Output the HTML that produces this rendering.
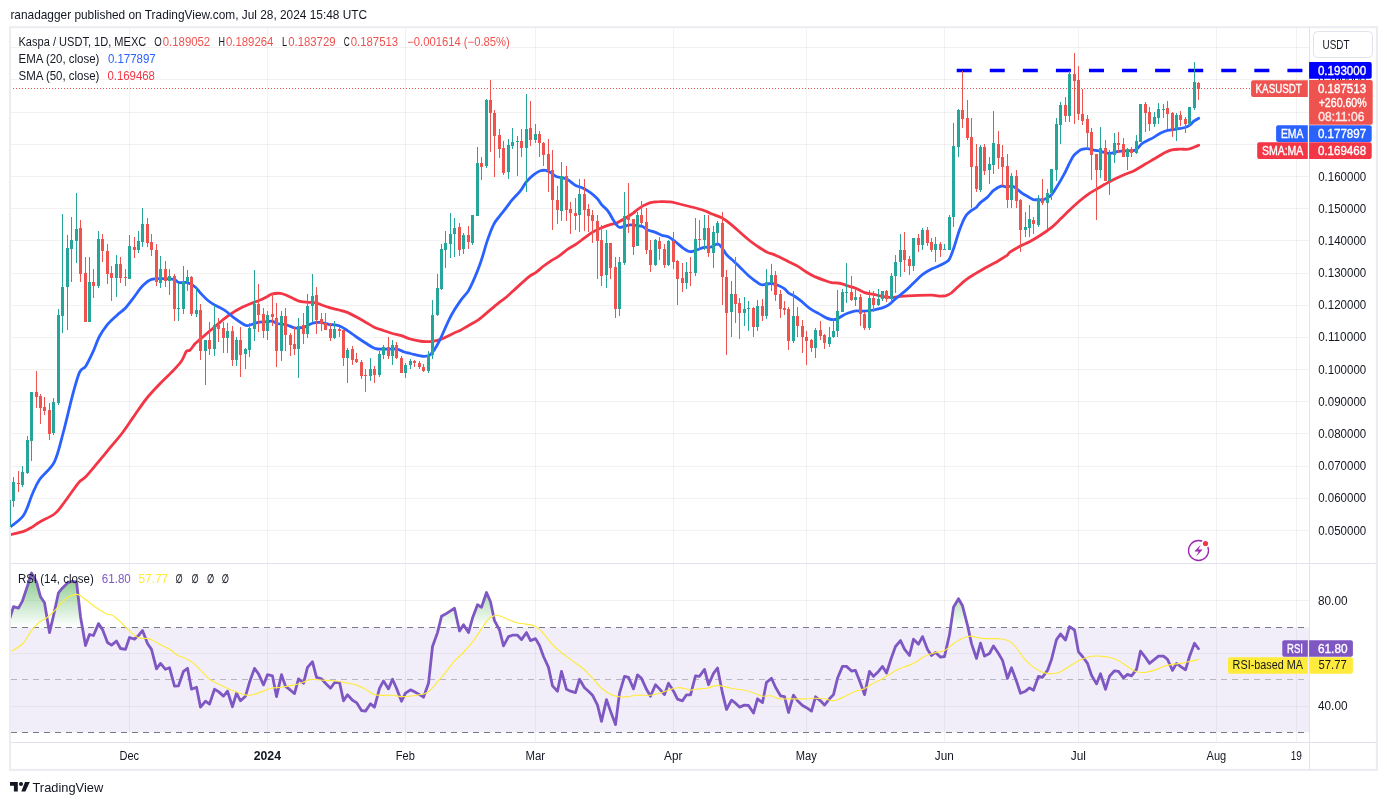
<!DOCTYPE html>
<html lang="en"><head><meta charset="utf-8"><title>Kaspa / USDT chart</title>
<style>html,body{margin:0;padding:0;background:#fff;}body{width:1387px;height:805px;overflow:hidden;}svg{display:block;}text{font-family:"Liberation Sans", "DejaVu Sans", sans-serif;}</style></head><body>
<svg width="1387" height="805" viewBox="0 0 1387 805">
<defs>
<clipPath id="cm"><rect x="10.5" y="28" width="1299" height="535"/></clipPath>
<clipPath id="cr"><rect x="10.5" y="564" width="1299" height="178"/></clipPath>
<clipPath id="ob"><rect x="10.5" y="564" width="1299" height="63.3"/></clipPath>
<linearGradient id="gg" gradientUnits="userSpaceOnUse" x1="0" y1="569.5" x2="0" y2="627.3"><stop offset="0" stop-color="#4caf50" stop-opacity="0.75"/><stop offset="1" stop-color="#4caf50" stop-opacity="0"/></linearGradient>
</defs>
<rect width="1387" height="805" fill="#fff"/>
<g stroke="#1e2a30" stroke-opacity="0.06" stroke-width="1" shape-rendering="crispEdges">
<line x1="10.5" x2="1309.5" y1="530.5" y2="530.5"/>
<line x1="10.5" x2="1309.5" y1="498.5" y2="498.5"/>
<line x1="10.5" x2="1309.5" y1="466.5" y2="466.5"/>
<line x1="10.5" x2="1309.5" y1="433.5" y2="433.5"/>
<line x1="10.5" x2="1309.5" y1="401.5" y2="401.5"/>
<line x1="10.5" x2="1309.5" y1="369.5" y2="369.5"/>
<line x1="10.5" x2="1309.5" y1="337.5" y2="337.5"/>
<line x1="10.5" x2="1309.5" y1="305.5" y2="305.5"/>
<line x1="10.5" x2="1309.5" y1="273.5" y2="273.5"/>
<line x1="10.5" x2="1309.5" y1="240.5" y2="240.5"/>
<line x1="10.5" x2="1309.5" y1="208.5" y2="208.5"/>
<line x1="10.5" x2="1309.5" y1="176.5" y2="176.5"/>
<line x1="10.5" x2="1309.5" y1="144.5" y2="144.5"/>
<line x1="10.5" x2="1309.5" y1="112.5" y2="112.5"/>
<line x1="10.5" x2="1309.5" y1="79.5" y2="79.5"/>
<line x1="10.5" x2="1309.5" y1="47.5" y2="47.5"/>
<line x1="10.5" x2="1309.5" y1="706.5" y2="706.5"/>
<line x1="10.5" x2="1309.5" y1="653.5" y2="653.5"/>
<line x1="10.5" x2="1309.5" y1="600.5" y2="600.5"/>
<line x1="129.5" x2="129.5" y1="28" y2="742.5"/>
<line x1="267.5" x2="267.5" y1="28" y2="742.5"/>
<line x1="405.5" x2="405.5" y1="28" y2="742.5"/>
<line x1="535.5" x2="535.5" y1="28" y2="742.5"/>
<line x1="673.5" x2="673.5" y1="28" y2="742.5"/>
<line x1="806.5" x2="806.5" y1="28" y2="742.5"/>
<line x1="944.5" x2="944.5" y1="28" y2="742.5"/>
<line x1="1078.5" x2="1078.5" y1="28" y2="742.5"/>
<line x1="1216.5" x2="1216.5" y1="28" y2="742.5"/>
<line x1="1296.5" x2="1296.5" y1="28" y2="742.5"/>
</g>
<rect x="10.5" y="627.3" width="1299.0" height="105.0" fill="#7e57c2" fill-opacity="0.1"/>
<g stroke="#787b86" stroke-width="1" stroke-dasharray="6 5" shape-rendering="crispEdges">
<line x1="10.5" x2="1309.5" y1="627.5" y2="627.5" stroke-opacity="1"/>
<line x1="10.5" x2="1309.5" y1="679.5" y2="679.5" stroke-opacity="0.5"/>
<line x1="10.5" x2="1309.5" y1="732.5" y2="732.5" stroke-opacity="1"/>
</g>
<g clip-path="url(#ob)"><polygon points="10.0,617.9 13.5,606.7 18.5,608.1 22.5,600.8 27.5,585.9 31.5,573.0 36.5,581.9 40.5,596.8 44.5,602.8 49.5,632.6 53.5,615.7 58.5,592.8 62.5,587.9 67.5,582.9 71.5,581.5 76.5,581.9 80.5,616.7 85.5,645.5 89.5,634.5 93.5,635.5 98.5,623.6 102.5,629.6 107.5,642.5 111.5,645.1 116.5,641.1 120.5,648.5 125.5,649.4 129.5,637.5 134.5,639.1 138.5,635.5 142.5,630.6 147.5,643.5 151.5,649.4 156.5,668.9 160.5,663.4 165.5,669.3 169.5,667.7 174.5,686.2 178.5,685.8 183.5,671.3 187.5,668.3 191.5,689.2 196.5,687.2 200.5,707.1 205.5,701.1 209.5,704.1 214.5,689.2 218.5,691.6 223.5,696.1 227.5,691.2 232.5,706.7 236.5,693.2 240.5,700.8 245.5,696.2 249.5,682.3 254.5,668.4 258.5,673.8 263.5,684.9 267.5,674.7 272.5,675.9 276.5,696.6 281.5,674.7 285.5,686.3 290.5,690.2 294.5,693.6 298.5,678.9 303.5,683.3 307.5,667.4 312.5,661.8 316.5,677.3 321.5,678.9 325.5,683.3 330.5,688.3 334.5,682.7 339.5,682.3 343.5,700.8 347.5,694.8 352.5,700.2 356.5,702.6 361.5,710.5 365.5,711.1 370.5,703.8 374.5,707.1 379.5,688.3 383.5,680.9 388.5,688.9 392.5,679.3 396.5,688.3 401.5,701.2 405.5,693.2 410.5,689.8 414.5,691.8 419.5,694.6 423.5,697.2 428.5,683.3 432.5,646.5 437.5,632.6 441.5,616.3 445.5,614.1 450.5,610.8 454.5,608.2 459.5,631.0 463.5,624.7 468.5,632.6 472.5,618.1 477.5,604.8 481.5,607.2 486.5,592.5 490.5,601.8 494.5,620.7 499.5,630.0 503.5,645.9 508.5,636.6 512.5,635.2 517.5,635.2 521.5,639.6 526.5,632.6 530.5,640.6 535.5,638.6 539.5,645.5 543.5,656.5 548.5,667.4 552.5,685.9 557.5,691.2 561.5,671.4 566.5,689.3 570.5,691.2 575.5,692.6 579.5,679.3 584.5,687.7 588.5,691.2 592.5,695.2 597.5,705.1 601.5,721.4 606.5,699.6 610.5,711.1 615.5,724.6 619.5,693.2 624.5,676.3 628.5,677.3 633.5,688.9 637.5,674.9 641.5,678.3 646.5,689.3 650.5,696.2 655.5,684.7 659.5,688.9 664.5,694.6 668.5,683.3 673.5,691.2 677.5,699.2 682.5,700.8 686.5,694.8 690.5,694.8 695.5,675.9 699.5,676.3 704.5,669.4 708.5,684.7 713.5,673.4 717.5,668.0 722.5,693.2 726.5,709.5 731.5,700.2 735.5,703.2 739.5,707.1 744.5,705.1 748.5,705.5 753.5,713.1 757.5,698.8 762.5,702.6 766.5,682.3 771.5,678.3 775.5,687.3 780.5,695.8 784.5,696.6 788.5,712.5 793.5,695.2 797.5,700.8 802.5,705.5 806.5,707.7 811.5,711.1 815.5,696.8 820.5,700.8 824.5,705.1 829.5,698.8 833.5,694.6 837.5,678.3 842.5,666.4 846.5,666.4 851.5,671.0 855.5,670.4 860.5,683.3 864.5,694.6 869.5,671.4 873.5,676.3 878.5,671.4 882.5,666.4 886.5,673.0 891.5,657.5 895.5,646.5 900.5,640.6 904.5,649.1 909.5,655.5 913.5,639.2 918.5,644.2 922.5,636.6 927.5,649.5 931.5,655.5 935.5,652.5 940.5,657.1 944.5,656.5 949.5,634.6 953.5,607.2 958.5,598.8 962.5,605.8 967.5,625.3 971.5,643.6 976.5,658.5 980.5,643.2 984.5,656.1 989.5,653.5 993.5,645.9 998.5,653.5 1002.5,660.4 1007.5,678.3 1011.5,667.8 1016.5,681.3 1020.5,693.2 1025.5,691.2 1029.5,687.9 1033.5,690.2 1038.5,676.3 1042.5,677.3 1047.5,670.4 1051.5,659.4 1056.5,639.6 1060.5,634.0 1065.5,640.0 1069.5,626.7 1074.5,630.0 1078.5,651.9 1082.5,656.5 1087.5,663.4 1091.5,675.3 1096.5,683.9 1100.5,673.8 1105.5,689.3 1109.5,676.3 1114.5,670.8 1118.5,671.4 1123.5,677.9 1127.5,674.4 1131.5,675.9 1136.5,669.4 1140.5,651.1 1145.5,657.5 1149.5,663.4 1154.5,659.4 1158.5,656.1 1163.5,656.1 1167.5,659.4 1172.5,670.4 1176.5,663.4 1180.5,666.4 1185.5,669.8 1189.5,656.5 1194.5,643.2 1198.5,648.7 1198.5,627.3 10.0,627.3" fill="url(#gg)"/></g>
<g clip-path="url(#cr)"><polyline points="10.0,617.9 13.5,606.7 18.5,608.1 22.5,600.8 27.5,585.9 31.5,573.0 36.5,581.9 40.5,596.8 44.5,602.8 49.5,632.6 53.5,615.7 58.5,592.8 62.5,587.9 67.5,582.9 71.5,581.5 76.5,581.9 80.5,616.7 85.5,645.5 89.5,634.5 93.5,635.5 98.5,623.6 102.5,629.6 107.5,642.5 111.5,645.1 116.5,641.1 120.5,648.5 125.5,649.4 129.5,637.5 134.5,639.1 138.5,635.5 142.5,630.6 147.5,643.5 151.5,649.4 156.5,668.9 160.5,663.4 165.5,669.3 169.5,667.7 174.5,686.2 178.5,685.8 183.5,671.3 187.5,668.3 191.5,689.2 196.5,687.2 200.5,707.1 205.5,701.1 209.5,704.1 214.5,689.2 218.5,691.6 223.5,696.1 227.5,691.2 232.5,706.7 236.5,693.2 240.5,700.8 245.5,696.2 249.5,682.3 254.5,668.4 258.5,673.8 263.5,684.9 267.5,674.7 272.5,675.9 276.5,696.6 281.5,674.7 285.5,686.3 290.5,690.2 294.5,693.6 298.5,678.9 303.5,683.3 307.5,667.4 312.5,661.8 316.5,677.3 321.5,678.9 325.5,683.3 330.5,688.3 334.5,682.7 339.5,682.3 343.5,700.8 347.5,694.8 352.5,700.2 356.5,702.6 361.5,710.5 365.5,711.1 370.5,703.8 374.5,707.1 379.5,688.3 383.5,680.9 388.5,688.9 392.5,679.3 396.5,688.3 401.5,701.2 405.5,693.2 410.5,689.8 414.5,691.8 419.5,694.6 423.5,697.2 428.5,683.3 432.5,646.5 437.5,632.6 441.5,616.3 445.5,614.1 450.5,610.8 454.5,608.2 459.5,631.0 463.5,624.7 468.5,632.6 472.5,618.1 477.5,604.8 481.5,607.2 486.5,592.5 490.5,601.8 494.5,620.7 499.5,630.0 503.5,645.9 508.5,636.6 512.5,635.2 517.5,635.2 521.5,639.6 526.5,632.6 530.5,640.6 535.5,638.6 539.5,645.5 543.5,656.5 548.5,667.4 552.5,685.9 557.5,691.2 561.5,671.4 566.5,689.3 570.5,691.2 575.5,692.6 579.5,679.3 584.5,687.7 588.5,691.2 592.5,695.2 597.5,705.1 601.5,721.4 606.5,699.6 610.5,711.1 615.5,724.6 619.5,693.2 624.5,676.3 628.5,677.3 633.5,688.9 637.5,674.9 641.5,678.3 646.5,689.3 650.5,696.2 655.5,684.7 659.5,688.9 664.5,694.6 668.5,683.3 673.5,691.2 677.5,699.2 682.5,700.8 686.5,694.8 690.5,694.8 695.5,675.9 699.5,676.3 704.5,669.4 708.5,684.7 713.5,673.4 717.5,668.0 722.5,693.2 726.5,709.5 731.5,700.2 735.5,703.2 739.5,707.1 744.5,705.1 748.5,705.5 753.5,713.1 757.5,698.8 762.5,702.6 766.5,682.3 771.5,678.3 775.5,687.3 780.5,695.8 784.5,696.6 788.5,712.5 793.5,695.2 797.5,700.8 802.5,705.5 806.5,707.7 811.5,711.1 815.5,696.8 820.5,700.8 824.5,705.1 829.5,698.8 833.5,694.6 837.5,678.3 842.5,666.4 846.5,666.4 851.5,671.0 855.5,670.4 860.5,683.3 864.5,694.6 869.5,671.4 873.5,676.3 878.5,671.4 882.5,666.4 886.5,673.0 891.5,657.5 895.5,646.5 900.5,640.6 904.5,649.1 909.5,655.5 913.5,639.2 918.5,644.2 922.5,636.6 927.5,649.5 931.5,655.5 935.5,652.5 940.5,657.1 944.5,656.5 949.5,634.6 953.5,607.2 958.5,598.8 962.5,605.8 967.5,625.3 971.5,643.6 976.5,658.5 980.5,643.2 984.5,656.1 989.5,653.5 993.5,645.9 998.5,653.5 1002.5,660.4 1007.5,678.3 1011.5,667.8 1016.5,681.3 1020.5,693.2 1025.5,691.2 1029.5,687.9 1033.5,690.2 1038.5,676.3 1042.5,677.3 1047.5,670.4 1051.5,659.4 1056.5,639.6 1060.5,634.0 1065.5,640.0 1069.5,626.7 1074.5,630.0 1078.5,651.9 1082.5,656.5 1087.5,663.4 1091.5,675.3 1096.5,683.9 1100.5,673.8 1105.5,689.3 1109.5,676.3 1114.5,670.8 1118.5,671.4 1123.5,677.9 1127.5,674.4 1131.5,675.9 1136.5,669.4 1140.5,651.1 1145.5,657.5 1149.5,663.4 1154.5,659.4 1158.5,656.1 1163.5,656.1 1167.5,659.4 1172.5,670.4 1176.5,663.4 1180.5,666.4 1185.5,669.8 1189.5,656.5 1194.5,643.2 1198.5,648.7" fill="none" stroke="#7e57c2" stroke-width="2.8" stroke-linejoin="round" stroke-linecap="round"/></g>
<g clip-path="url(#cr)"><path d="M10.0,652.0C12.1,650.6 19.4,646.9 22.9,643.5C26.4,640.1 28.2,635.0 30.8,631.6C33.5,628.1 36.1,624.9 38.8,622.6C41.4,620.3 44.1,619.6 46.7,617.7C49.4,615.7 52.0,613.4 54.7,610.7C57.3,608.1 60.3,604.1 62.6,601.8C64.9,599.4 66.4,598.0 68.6,596.8C70.8,595.6 73.7,594.6 75.7,594.4C77.7,594.2 78.4,594.6 80.5,595.8C82.6,597.0 85.8,599.8 88.4,601.8C91.1,603.8 93.4,605.7 96.4,607.7C99.4,609.7 103.7,612.4 106.3,613.7C109.0,614.9 110.0,614.0 112.3,615.3C114.6,616.6 117.4,619.1 120.2,621.6C123.1,624.2 126.2,627.9 129.2,630.6C132.2,633.2 135.1,636.2 138.1,637.5C141.1,638.9 144.7,638.1 147.1,638.5C149.4,638.9 149.5,638.8 152.0,639.9C154.5,641.1 159.0,643.9 162.0,645.5C164.9,647.1 167.3,647.8 169.9,649.4C172.6,651.1 175.2,653.9 177.9,655.4C180.5,656.9 183.2,657.1 185.8,658.4C188.5,659.7 190.8,660.9 193.8,663.4C196.7,665.8 201.0,670.6 203.7,673.3C206.3,675.9 207.3,677.5 209.6,679.3C212.0,681.0 214.9,682.2 217.6,683.6C220.2,685.0 222.8,686.3 225.5,687.6C228.3,688.9 231.3,690.1 234.2,691.2C237.1,692.3 240.3,693.6 242.9,694.2C245.6,694.9 247.3,695.4 249.9,695.2C252.6,695.0 255.4,694.0 258.8,692.8C262.3,691.7 267.1,689.2 270.8,688.3C274.4,687.3 276.7,687.8 280.7,687.3C284.7,686.7 290.9,685.7 294.6,684.9C298.3,684.1 300.1,683.2 303.0,682.3C305.8,681.4 308.6,679.6 311.9,679.3C315.1,679.0 318.7,680.1 322.4,680.3C326.1,680.5 330.2,680.3 334.1,680.7C338.1,681.1 342.6,682.2 346.3,682.9C350.0,683.6 353.2,683.8 356.4,684.9C359.6,685.9 362.4,687.6 365.3,689.3C368.3,690.9 371.3,693.6 374.3,694.6C377.3,695.6 380.2,695.3 383.2,695.4C386.2,695.5 389.2,695.0 392.2,695.2C395.1,695.4 398.0,696.4 400.9,696.6C403.9,696.8 406.9,696.5 409.8,696.2C412.8,695.9 416.1,695.3 418.8,694.8C421.4,694.3 423.5,694.3 425.7,693.2C428.0,692.1 429.8,690.6 432.1,688.3C434.4,685.9 437.4,682.0 439.6,679.3C441.9,676.7 443.3,675.3 445.6,672.4C447.9,669.4 450.9,664.8 453.6,661.8C456.2,658.9 459.6,656.4 461.5,654.5C463.4,652.6 463.1,652.7 465.0,650.5C466.9,648.4 470.3,645.0 472.9,641.6C475.6,638.1 478.2,633.5 480.9,629.6C483.5,625.8 486.5,621.0 488.8,618.7C491.2,616.4 493.1,616.2 494.8,615.7C496.5,615.2 496.9,615.1 499.2,615.7C501.5,616.4 505.8,618.6 508.7,619.7C511.7,620.9 514.0,622.0 516.9,622.7C519.7,623.4 522.8,623.5 525.8,624.1C528.8,624.6 531.8,624.5 534.7,626.1C537.7,627.7 540.7,630.5 543.7,633.6C546.6,636.7 549.5,641.4 552.4,644.5C555.4,647.7 558.4,650.0 561.4,652.5C564.3,655.0 566.6,656.7 570.3,659.4C574.0,662.2 579.9,665.8 583.6,669.0C587.3,672.1 589.6,675.1 592.6,678.3C595.5,681.5 598.5,685.6 601.5,688.3C604.5,690.9 607.5,692.8 610.4,694.2C613.4,695.6 616.2,696.4 619.2,696.8C622.1,697.2 625.1,696.9 628.1,696.6C631.1,696.3 633.4,695.4 637.1,695.2C640.8,695.0 646.7,695.5 650.4,695.2C654.1,694.9 656.3,694.1 659.3,693.2C662.3,692.4 665.3,691.2 668.3,690.2C671.2,689.3 674.3,687.9 677.2,687.7C680.1,687.4 683.7,688.4 685.9,688.9C688.2,689.3 689.0,690.2 690.5,690.2C692.0,690.3 692.3,689.6 695.0,689.3C697.7,688.9 703.2,688.9 706.9,688.3C710.7,687.6 713.5,685.3 717.5,685.3C721.4,685.3 726.2,687.4 730.8,688.3C735.3,689.1 740.7,689.4 744.7,690.2C748.6,691.1 751.7,692.2 754.6,693.2C757.5,694.2 759.2,695.8 762.0,696.2C764.7,696.6 767.9,695.4 770.9,695.8C773.9,696.2 776.1,698.3 779.8,698.8C783.5,699.3 788.7,698.8 793.2,698.8C797.6,698.8 802.8,698.9 806.5,698.8C810.2,698.7 812.4,698.2 815.4,698.2C818.4,698.2 821.4,698.4 824.3,698.8C827.3,699.2 830.3,701.0 833.3,700.8C836.3,700.6 838.5,699.2 842.2,697.6C845.9,696.0 851.8,692.7 855.5,691.2C859.2,689.7 861.5,690.0 864.5,688.7C867.4,687.3 870.3,684.9 873.2,683.3C876.2,681.7 879.2,680.6 882.2,678.9C885.1,677.3 888.1,675.1 891.1,673.4C894.1,671.6 897.1,669.7 900.0,668.4C903.0,667.1 906.0,666.6 909.0,665.4C911.9,664.2 915.1,662.6 917.7,661.0C920.4,659.5 922.0,657.5 925.0,656.1C928.0,654.6 932.5,653.4 935.7,652.5C939.0,651.6 941.7,652.0 944.7,650.5C947.7,649.0 950.6,645.6 953.6,643.6C956.6,641.5 959.9,639.4 962.6,638.2C965.2,637.0 967.5,636.4 969.7,636.2C971.9,636.0 973.3,636.8 975.9,637.2C978.4,637.6 981.9,638.4 984.8,638.6C987.8,638.8 990.6,638.5 993.5,638.6C996.5,638.7 999.5,638.3 1002.5,639.0C1005.5,639.6 1008.8,640.6 1011.4,642.6C1014.1,644.5 1016.2,647.7 1018.4,650.5C1020.6,653.3 1022.2,656.6 1024.7,659.4C1027.3,662.3 1030.7,665.2 1033.7,667.4C1036.7,669.5 1039.6,671.3 1042.6,672.4C1045.6,673.4 1048.6,673.8 1051.6,673.8C1054.5,673.7 1057.4,673.2 1060.3,672.0C1063.3,670.7 1066.1,668.3 1069.2,666.4C1072.4,664.5 1075.6,662.1 1079.1,660.4C1082.5,658.8 1086.5,657.2 1089.9,656.5C1093.4,655.7 1096.6,655.9 1099.9,656.1C1103.2,656.2 1106.7,656.7 1109.8,657.5C1112.9,658.2 1115.4,659.0 1118.3,660.4C1121.3,661.9 1124.3,664.5 1127.3,666.4C1130.3,668.3 1133.2,670.8 1136.2,671.8C1139.2,672.8 1142.2,672.6 1145.2,672.4C1148.1,672.1 1151.0,671.3 1153.9,670.4C1156.9,669.4 1159.9,667.8 1162.9,666.8C1165.8,665.8 1168.8,665.0 1171.8,664.4C1174.8,663.9 1177.8,663.9 1180.7,663.4C1183.7,662.9 1186.7,662.1 1189.7,661.4C1192.7,660.8 1197.1,659.8 1198.6,659.4" fill="none" stroke="#ffeb3b" stroke-width="1.15" stroke-linejoin="round"/></g>
<line x1="10" x2="1252" y1="88.5" y2="88.5" stroke="#ef5350" stroke-width="1" stroke-dasharray="1 2" shape-rendering="crispEdges"/>
<g clip-path="url(#cm)">
<path d="M10.2,534.7C12.4,534.1 19.9,532.7 23.6,531.4C27.3,530.1 29.6,528.5 32.3,527.0C35.0,525.4 36.1,524.1 39.8,522.0C43.4,519.8 50.7,516.8 54.4,514.0C58.1,511.3 59.2,509.1 62.1,505.3C65.1,501.6 69.2,495.6 72.0,491.7C74.9,487.7 77.2,484.2 79.5,481.7C81.8,479.3 82.4,480.3 85.7,476.8C89.0,473.3 95.0,465.8 99.4,460.6C103.7,455.4 107.9,450.5 111.8,445.7C115.7,441.0 119.3,437.0 123.0,432.0C126.7,427.1 130.2,421.5 134.2,415.9C138.1,410.3 142.4,403.7 146.6,398.5C150.7,393.3 154.9,389.2 159.0,384.8C163.1,380.5 167.7,376.4 171.4,372.4C175.2,368.5 178.9,364.7 181.4,361.2C183.9,357.7 184.9,353.3 186.3,351.4C187.8,349.6 188.5,351.4 190.0,350.1C191.5,348.8 193.5,345.3 195.2,343.5C197.0,341.7 198.4,340.9 200.4,339.1C202.5,337.4 205.0,335.1 207.4,333.0C209.7,331.0 211.6,329.4 214.5,327.0C217.4,324.5 221.6,320.7 224.8,318.3C227.9,315.8 230.6,314.0 233.5,312.2C236.4,310.3 239.3,308.8 242.2,307.3C245.1,305.9 248.0,304.6 250.9,303.5C253.8,302.3 257.0,301.4 259.6,300.3C262.2,299.2 264.4,297.9 266.5,296.9C268.7,295.8 270.1,294.5 272.4,293.9C274.8,293.3 277.9,293.1 280.4,293.4C282.9,293.7 285.0,294.7 287.4,295.7C289.7,296.6 292.2,298.1 294.5,299.1C296.8,300.1 299.0,301.2 301.3,301.7C303.6,302.3 305.9,302.1 308.3,302.3C310.6,302.4 313.1,302.2 315.2,302.6C317.4,303.0 318.6,303.9 321.1,304.8C323.6,305.7 327.4,307.1 330.4,307.9C333.4,308.8 336.2,309.2 339.1,310.0C342.0,310.8 344.9,311.4 347.8,312.6C350.7,313.8 353.6,315.4 356.5,317.0C359.5,318.6 362.6,320.4 365.6,322.2C368.6,323.9 371.6,326.0 374.6,327.4C377.6,328.8 380.5,329.5 383.5,330.5C386.5,331.5 389.5,332.6 392.5,333.5C395.5,334.3 398.4,334.8 401.4,335.7C404.4,336.7 407.4,338.2 410.4,339.0C413.4,339.9 416.7,340.5 419.3,341.0C421.9,341.4 423.9,341.6 426.1,341.7C428.3,341.7 430.4,341.7 432.7,341.3C435.0,341.0 437.3,340.5 440.0,339.6C442.7,338.6 446.1,337.0 448.7,335.7C451.3,334.5 453.8,333.1 455.7,332.3C457.5,331.4 457.9,331.6 460.0,330.5C462.1,329.4 465.1,327.5 468.3,325.7C471.4,323.8 475.2,322.0 478.7,319.6C482.2,317.1 485.7,313.8 489.1,310.9C492.6,308.0 496.7,304.5 499.6,302.2C502.5,299.9 503.6,299.4 506.5,297.0C509.4,294.5 513.2,290.8 517.0,287.4C520.7,284.0 526.0,279.1 529.1,276.6C532.3,274.1 533.4,274.3 535.7,272.6C538.1,270.9 540.4,268.6 543.0,266.5C545.7,264.5 549.1,262.2 551.7,260.4C554.4,258.7 556.2,258.0 558.9,256.1C561.6,254.2 564.9,251.2 567.8,249.1C570.8,247.1 573.7,245.8 576.5,243.9C579.3,242.0 581.8,239.8 584.5,237.8C587.2,235.9 589.8,233.8 592.7,232.1C595.6,230.4 598.9,229.0 601.7,227.7C604.6,226.5 607.1,225.6 609.6,224.8C612.0,224.0 614.0,224.1 616.5,223.0C619.0,222.0 621.8,220.3 624.5,218.7C627.2,217.1 630.3,215.2 632.7,213.5C635.1,211.7 636.8,209.8 639.1,208.3C641.4,206.7 644.1,205.3 646.4,204.3C648.8,203.2 650.8,202.6 653.0,202.2C655.2,201.7 657.0,201.7 659.7,201.7C662.3,201.6 666.0,201.6 668.7,201.8C671.4,202.1 670.0,201.7 675.7,203.0C681.3,204.4 696.7,208.2 702.6,210.0C708.6,211.8 708.1,212.5 711.3,213.8C714.5,215.1 718.6,216.1 721.7,217.8C724.9,219.5 725.9,220.2 730.4,223.9C735.0,227.6 744.2,236.2 748.9,240.0C753.6,243.8 755.4,244.9 758.5,247.0C761.5,249.0 764.3,250.8 767.2,252.2C770.0,253.6 772.0,253.7 775.5,255.3C779.1,256.9 784.9,259.9 788.6,261.7C792.2,263.5 794.6,264.3 797.6,266.1C800.6,267.8 803.7,270.4 806.7,272.2C809.6,274.0 812.4,275.5 815.3,276.9C818.3,278.2 821.7,279.4 824.4,280.3C827.1,281.3 829.3,282.2 831.5,282.6C833.7,283.0 835.6,282.7 837.6,283.0C839.6,283.2 842.1,283.9 843.7,284.3C845.3,284.8 845.0,285.0 847.0,285.7C848.9,286.3 852.7,287.1 855.7,288.3C858.6,289.4 861.7,291.6 864.7,292.6C867.7,293.6 870.6,293.7 873.6,294.3C876.5,295.0 879.4,295.9 882.4,296.4C885.4,297.0 888.4,297.5 891.5,297.5C894.6,297.5 897.2,296.8 900.9,296.4C904.6,296.1 908.5,295.8 913.6,295.6C918.7,295.4 927.0,295.1 931.5,295.2C936.0,295.3 938.1,296.0 940.5,296.1C943.0,296.1 944.3,296.1 946.1,295.6C947.9,295.0 949.3,294.5 951.3,293.0C953.3,291.4 955.9,288.7 958.3,286.5C960.7,284.3 963.0,281.9 965.8,279.8C968.6,277.7 971.7,275.9 975.0,273.9C978.3,271.9 982.0,269.8 985.4,267.8C988.9,265.9 992.3,264.3 995.9,262.3C999.4,260.2 1004.3,257.3 1006.7,255.7C1009.0,254.0 1007.7,253.8 1010.0,252.2C1012.3,250.6 1017.2,247.8 1020.4,246.1C1023.7,244.3 1026.5,243.3 1029.5,241.7C1032.5,240.1 1035.1,238.7 1038.5,236.5C1041.9,234.3 1046.3,231.6 1050.0,228.7C1053.7,225.8 1057.2,222.2 1060.4,219.1C1063.6,216.1 1066.1,213.3 1069.1,210.4C1072.2,207.5 1075.7,204.3 1078.7,201.7C1081.7,199.1 1084.6,196.8 1087.4,194.8C1090.2,192.8 1092.8,191.3 1095.7,189.6C1098.6,187.8 1101.9,186.0 1104.8,184.3C1107.7,182.7 1110.0,181.4 1113.2,179.8C1116.5,178.2 1120.6,176.3 1124.1,174.8C1127.7,173.2 1131.1,172.2 1134.6,170.4C1138.0,168.7 1141.5,166.4 1145.0,164.3C1148.5,162.3 1152.2,160.1 1155.4,158.3C1158.6,156.4 1161.4,154.4 1164.1,153.0C1166.9,151.7 1169.2,150.6 1171.8,149.9C1174.4,149.3 1177.0,149.3 1179.8,149.2C1182.6,149.1 1186.1,149.5 1188.5,149.2C1190.8,148.9 1192.2,148.0 1193.9,147.3C1195.6,146.6 1197.9,145.6 1198.7,145.2" fill="none" stroke="#f23645" stroke-width="2.8" stroke-linejoin="round" stroke-linecap="round"/>
<path d="M10.2,527.0C12.4,525.0 19.9,520.7 23.6,515.3C27.3,509.8 29.6,500.2 32.3,494.2C35.0,488.2 36.1,484.6 39.8,479.3C43.4,473.9 50.5,469.7 54.4,461.9C58.3,454.0 60.4,442.8 63.4,432.0C66.3,421.3 69.4,407.2 72.0,397.3C74.7,387.3 77.2,377.6 79.5,372.4C81.8,367.2 83.4,369.7 85.7,366.2C88.0,362.7 90.9,356.4 93.2,351.4C95.4,346.5 97.1,340.9 99.4,336.5C101.7,332.2 103.9,328.9 106.8,325.3C109.7,321.8 113.7,318.3 116.8,315.4C119.9,312.5 122.6,311.1 125.5,308.0C128.4,304.8 131.3,300.5 134.2,296.8C137.1,293.0 140.0,288.5 142.9,285.6C145.8,282.7 148.4,280.5 151.6,279.4C154.7,278.2 157.8,278.6 161.5,278.6C165.2,278.6 171.0,278.7 173.9,279.4C176.8,280.0 176.6,282.1 178.9,282.6C181.2,283.1 184.9,281.9 187.6,282.6C190.3,283.3 193.1,285.2 195.2,287.0C197.4,288.7 198.4,290.9 200.4,293.0C202.5,295.2 205.0,298.0 207.4,300.0C209.7,302.0 211.6,303.1 214.5,304.9C217.4,306.6 221.6,308.3 224.8,310.4C227.9,312.5 230.6,315.2 233.5,317.4C236.4,319.6 239.9,322.1 242.2,323.5C244.5,324.8 245.3,325.6 247.4,325.6C249.4,325.6 252.5,324.1 254.5,323.5C256.6,322.9 257.4,322.4 259.6,322.1C261.7,321.8 265.4,321.9 267.6,321.7C269.7,321.6 270.9,320.9 272.4,321.2C274.0,321.5 274.8,322.9 277.0,323.5C279.2,324.1 282.7,324.0 285.7,324.7C288.6,325.4 292.2,327.3 294.5,327.8C296.8,328.3 297.9,328.0 299.6,327.8C301.3,327.7 302.8,327.7 304.8,327.0C306.8,326.2 309.3,324.2 311.7,323.5C314.2,322.7 316.5,322.3 319.3,322.4C322.2,322.5 325.4,323.7 328.7,324.3C332.0,324.8 335.9,324.6 339.1,325.7C342.3,326.8 344.9,329.0 347.8,330.9C350.7,332.8 353.6,334.9 356.5,337.0C359.5,339.0 362.6,341.2 365.6,343.0C368.6,344.9 371.6,347.2 374.6,348.3C377.6,349.3 380.5,349.0 383.5,349.1C386.5,349.3 390.2,349.1 392.5,349.1C394.8,349.1 395.6,348.7 397.4,349.1C399.2,349.6 401.3,351.0 403.5,351.7C405.7,352.5 407.8,352.8 410.4,353.5C413.1,354.1 417.0,355.1 419.3,355.6C421.6,356.1 422.6,356.5 424.3,356.4C426.1,356.4 427.8,356.4 429.6,355.2C431.3,354.0 433.0,351.7 434.8,349.1C436.5,346.5 437.6,344.5 440.0,339.6C442.4,334.6 446.7,324.5 449.1,319.6C451.5,314.6 452.3,313.3 454.3,310.0C456.4,306.7 459.0,302.8 461.3,299.6C463.6,296.4 466.2,294.1 468.3,290.9C470.3,287.7 471.4,285.1 473.5,280.4C475.5,275.8 478.1,269.7 480.4,263.0C482.8,256.4 485.2,246.8 487.4,240.4C489.6,234.1 491.4,228.8 493.5,224.8C495.5,220.7 497.4,219.0 499.6,216.1C501.7,213.2 504.5,210.0 506.5,207.4C508.6,204.8 509.4,203.2 511.7,200.4C514.1,197.7 518.0,194.0 520.4,190.9C522.9,187.8 524.3,184.4 526.5,181.7C528.7,179.1 531.2,176.6 533.5,174.8C535.8,173.0 538.4,171.5 540.4,170.8C542.5,170.1 543.9,170.1 545.7,170.4C547.4,170.8 549.1,171.7 550.9,172.7C552.6,173.7 554.1,175.7 556.1,176.5C558.1,177.4 561.0,177.3 563.0,177.9C565.1,178.5 566.2,178.8 568.3,180.0C570.3,181.2 572.9,183.9 575.2,185.2C577.5,186.5 579.6,186.6 582.2,187.8C584.7,189.1 587.9,190.8 590.4,192.6C593.0,194.4 595.5,196.7 597.4,198.7C599.3,200.7 600.0,202.8 601.7,204.8C603.5,206.8 605.9,208.4 607.8,210.9C609.7,213.3 611.6,217.2 613.0,219.6C614.5,221.9 615.4,223.5 616.5,224.8C617.6,226.1 618.3,227.2 619.7,227.4C621.0,227.6 622.7,226.6 624.5,226.2C626.3,225.7 628.3,224.9 630.4,224.8C632.6,224.7 635.4,225.4 637.4,225.7C639.4,225.9 640.9,225.8 642.6,226.5C644.3,227.2 645.8,229.1 647.8,230.0C649.9,230.9 652.5,231.2 654.8,232.1C657.1,233.0 659.4,234.4 661.7,235.2C664.1,236.0 666.4,235.9 668.7,237.0C670.9,238.0 672.8,239.7 675.2,241.6C677.7,243.4 680.9,246.6 683.5,248.3C686.0,250.0 688.1,251.5 690.4,251.7C692.8,252.0 695.1,250.4 697.4,249.7C699.7,248.9 702.0,247.9 704.3,247.4C706.7,246.9 709.1,247.4 711.3,246.9C713.5,246.3 715.8,243.8 717.6,243.9C719.3,244.0 720.2,245.5 721.7,247.4C723.3,249.3 725.1,253.0 727.0,255.2C728.9,257.4 731.0,258.7 733.2,260.7C735.3,262.6 737.1,264.5 739.7,267.0C742.3,269.5 745.6,273.0 748.6,275.7C751.6,278.3 755.3,281.1 757.6,282.6C759.9,284.1 760.1,284.7 762.3,284.9C764.5,285.0 768.4,283.6 770.7,283.5C772.9,283.4 773.2,283.5 775.5,284.3C777.8,285.2 782.2,287.2 784.4,288.7C786.6,290.1 786.8,291.7 788.6,293.0C790.3,294.3 792.8,295.1 795.0,296.5C797.2,298.0 799.3,299.6 802.0,301.7C804.6,303.9 807.9,307.2 810.8,309.2C813.7,311.2 816.8,312.5 819.3,313.9C821.9,315.4 824.3,317.0 826.3,317.9C828.3,318.8 829.8,319.3 831.5,319.5C833.3,319.7 834.9,319.8 836.7,319.1C838.6,318.5 840.8,316.6 842.5,315.7C844.2,314.7 844.8,314.3 847.0,313.5C849.2,312.7 852.7,311.2 855.7,310.9C858.6,310.5 861.7,311.4 864.7,311.2C867.7,311.1 870.6,310.6 873.6,310.0C876.5,309.4 879.9,308.8 882.4,307.9C885.0,307.0 886.5,306.3 888.7,304.8C890.9,303.2 893.0,300.9 895.7,298.7C898.3,296.5 901.7,294.0 904.7,291.4C907.7,288.8 910.6,285.8 913.6,283.0C916.5,280.3 919.4,277.0 922.4,274.7C925.4,272.4 928.5,270.7 931.5,269.1C934.5,267.5 938.1,266.3 940.5,265.1C943.0,264.0 944.6,263.2 946.1,262.2C947.6,261.1 948.3,261.0 949.6,258.7C950.8,256.4 952.2,252.7 953.7,248.3C955.3,243.8 957.3,236.4 958.8,232.0C960.3,227.5 961.6,224.5 962.8,221.7C964.1,218.9 964.9,217.0 966.3,215.1C967.8,213.2 969.9,211.7 971.5,210.4C973.1,209.2 974.4,209.1 975.9,207.8C977.3,206.5 978.5,204.3 980.4,202.6C982.3,200.9 985.0,199.4 987.2,197.4C989.4,195.4 991.3,192.3 993.6,190.4C995.9,188.6 998.9,186.7 1001.1,186.1C1003.3,185.5 1004.9,187.0 1006.7,187.0C1008.4,187.0 1010.0,185.9 1011.5,186.1C1013.0,186.2 1014.0,186.9 1015.5,187.8C1017.0,188.8 1018.9,190.7 1020.4,191.8C1021.9,193.0 1023.1,193.9 1024.6,194.8C1026.1,195.7 1027.9,196.6 1029.4,197.4C1030.9,198.2 1032.1,199.3 1033.6,199.7C1035.1,200.0 1037.0,199.6 1038.5,199.7C1040.0,199.7 1041.1,200.2 1042.5,200.0C1043.8,199.8 1045.1,199.1 1046.7,198.3C1048.2,197.4 1049.8,196.7 1051.5,194.8C1053.2,192.9 1054.6,190.4 1056.7,187.0C1058.9,183.5 1062.1,178.0 1064.3,173.9C1066.6,169.8 1068.4,165.2 1070.0,162.2C1071.6,159.1 1072.3,157.5 1073.7,155.7C1075.1,153.8 1076.9,152.4 1078.4,151.3C1079.9,150.2 1081.1,149.7 1082.6,149.2C1084.1,148.8 1085.9,148.6 1087.4,148.7C1088.9,148.8 1090.2,149.3 1091.6,149.6C1093.0,149.9 1094.3,150.1 1095.8,150.4C1097.3,150.7 1098.3,150.8 1100.7,151.3C1103.0,151.8 1106.7,153.4 1109.7,153.4C1112.7,153.4 1115.6,151.7 1118.6,151.3C1121.6,150.9 1124.9,150.9 1127.6,150.8C1130.3,150.6 1132.8,150.9 1134.6,150.4C1136.3,149.9 1136.9,148.9 1138.0,147.8C1139.2,146.8 1140.1,145.2 1141.5,144.0C1143.0,142.8 1144.7,142.0 1146.7,140.9C1148.8,139.8 1151.4,138.7 1153.7,137.4C1156.0,136.1 1158.3,134.2 1160.7,133.0C1163.0,131.9 1165.0,131.1 1167.6,130.4C1170.2,129.8 1173.4,129.5 1176.3,129.0C1179.2,128.6 1182.6,128.1 1184.8,127.5C1187.1,126.8 1188.2,126.3 1189.7,125.2C1191.2,124.2 1192.4,122.4 1193.9,121.2C1195.4,120.1 1197.9,118.8 1198.7,118.3" fill="none" stroke="#2962ff" stroke-width="2.8" stroke-linejoin="round" stroke-linecap="round"/>
</g>
<line x1="956.7" x2="1303.5" y1="70.5" y2="70.5" stroke="#0000ff" stroke-width="3.5" stroke-dasharray="15 18.07"/>
<g clip-path="url(#cm)" shape-rendering="crispEdges">
<rect x="13" y="477" width="1" height="30" fill="#26a69a"/>
<rect x="12" y="482" width="3" height="19" fill="#26a69a"/>
<rect x="18" y="471" width="1" height="21" fill="#ef5350"/>
<rect x="17" y="483" width="3" height="1" fill="#ef5350"/>
<rect x="22" y="466" width="1" height="21" fill="#26a69a"/>
<rect x="21" y="472" width="3" height="13" fill="#26a69a"/>
<rect x="27" y="436" width="1" height="38" fill="#26a69a"/>
<rect x="26" y="440" width="3" height="33" fill="#26a69a"/>
<rect x="31" y="392" width="1" height="69" fill="#26a69a"/>
<rect x="30" y="392" width="3" height="49" fill="#26a69a"/>
<rect x="36" y="371" width="1" height="37" fill="#ef5350"/>
<rect x="35" y="392" width="3" height="5" fill="#ef5350"/>
<rect x="40" y="394" width="1" height="30" fill="#ef5350"/>
<rect x="39" y="396" width="3" height="12" fill="#ef5350"/>
<rect x="44" y="397" width="1" height="18" fill="#ef5350"/>
<rect x="43" y="407" width="3" height="4" fill="#ef5350"/>
<rect x="49" y="403" width="1" height="37" fill="#ef5350"/>
<rect x="48" y="410" width="3" height="24" fill="#ef5350"/>
<rect x="53" y="398" width="1" height="37" fill="#26a69a"/>
<rect x="52" y="402" width="3" height="31" fill="#26a69a"/>
<rect x="58" y="309" width="1" height="96" fill="#26a69a"/>
<rect x="57" y="315" width="3" height="88" fill="#26a69a"/>
<rect x="62" y="214" width="1" height="119" fill="#26a69a"/>
<rect x="61" y="287" width="3" height="29" fill="#26a69a"/>
<rect x="67" y="235" width="1" height="95" fill="#26a69a"/>
<rect x="66" y="248" width="3" height="39" fill="#26a69a"/>
<rect x="71" y="217" width="1" height="65" fill="#26a69a"/>
<rect x="70" y="240" width="3" height="9" fill="#26a69a"/>
<rect x="76" y="193" width="1" height="70" fill="#26a69a"/>
<rect x="75" y="229" width="3" height="12" fill="#26a69a"/>
<rect x="80" y="220" width="1" height="62" fill="#ef5350"/>
<rect x="79" y="228" width="3" height="46" fill="#ef5350"/>
<rect x="85" y="257" width="1" height="65" fill="#ef5350"/>
<rect x="84" y="273" width="3" height="49" fill="#ef5350"/>
<rect x="89" y="257" width="1" height="65" fill="#26a69a"/>
<rect x="88" y="282" width="3" height="40" fill="#26a69a"/>
<rect x="93" y="269" width="1" height="29" fill="#ef5350"/>
<rect x="92" y="282" width="3" height="4" fill="#ef5350"/>
<rect x="98" y="231" width="1" height="57" fill="#26a69a"/>
<rect x="97" y="239" width="3" height="47" fill="#26a69a"/>
<rect x="102" y="234" width="1" height="28" fill="#ef5350"/>
<rect x="101" y="239" width="3" height="12" fill="#ef5350"/>
<rect x="107" y="244" width="1" height="40" fill="#ef5350"/>
<rect x="106" y="251" width="3" height="23" fill="#ef5350"/>
<rect x="111" y="266" width="1" height="35" fill="#ef5350"/>
<rect x="110" y="273" width="3" height="5" fill="#ef5350"/>
<rect x="116" y="255" width="1" height="42" fill="#26a69a"/>
<rect x="115" y="264" width="3" height="14" fill="#26a69a"/>
<rect x="120" y="257" width="1" height="26" fill="#ef5350"/>
<rect x="119" y="264" width="3" height="14" fill="#ef5350"/>
<rect x="125" y="269" width="1" height="17" fill="#ef5350"/>
<rect x="124" y="277" width="3" height="1" fill="#ef5350"/>
<rect x="129" y="235" width="1" height="44" fill="#26a69a"/>
<rect x="128" y="246" width="3" height="33" fill="#26a69a"/>
<rect x="134" y="237" width="1" height="21" fill="#ef5350"/>
<rect x="133" y="247" width="3" height="3" fill="#ef5350"/>
<rect x="138" y="231" width="1" height="22" fill="#26a69a"/>
<rect x="137" y="241" width="3" height="9" fill="#26a69a"/>
<rect x="142" y="208" width="1" height="39" fill="#26a69a"/>
<rect x="141" y="224" width="3" height="18" fill="#26a69a"/>
<rect x="147" y="218" width="1" height="29" fill="#ef5350"/>
<rect x="146" y="224" width="3" height="19" fill="#ef5350"/>
<rect x="151" y="234" width="1" height="22" fill="#ef5350"/>
<rect x="150" y="242" width="3" height="8" fill="#ef5350"/>
<rect x="156" y="244" width="1" height="42" fill="#ef5350"/>
<rect x="155" y="250" width="3" height="32" fill="#ef5350"/>
<rect x="160" y="256" width="1" height="32" fill="#26a69a"/>
<rect x="159" y="269" width="3" height="14" fill="#26a69a"/>
<rect x="165" y="261" width="1" height="26" fill="#ef5350"/>
<rect x="164" y="269" width="3" height="12" fill="#ef5350"/>
<rect x="169" y="269" width="1" height="26" fill="#26a69a"/>
<rect x="168" y="276" width="3" height="5" fill="#26a69a"/>
<rect x="174" y="274" width="1" height="47" fill="#ef5350"/>
<rect x="173" y="276" width="3" height="33" fill="#ef5350"/>
<rect x="178" y="283" width="1" height="38" fill="#26a69a"/>
<rect x="177" y="308" width="3" height="1" fill="#26a69a"/>
<rect x="183" y="266" width="1" height="48" fill="#26a69a"/>
<rect x="182" y="282" width="3" height="27" fill="#26a69a"/>
<rect x="187" y="270" width="1" height="21" fill="#26a69a"/>
<rect x="186" y="277" width="3" height="5" fill="#26a69a"/>
<rect x="191" y="276" width="1" height="40" fill="#ef5350"/>
<rect x="190" y="277" width="3" height="37" fill="#ef5350"/>
<rect x="196" y="288" width="1" height="29" fill="#26a69a"/>
<rect x="195" y="310" width="3" height="4" fill="#26a69a"/>
<rect x="200" y="304" width="1" height="56" fill="#ef5350"/>
<rect x="199" y="310" width="3" height="41" fill="#ef5350"/>
<rect x="205" y="340" width="1" height="45" fill="#26a69a"/>
<rect x="204" y="340" width="3" height="11" fill="#26a69a"/>
<rect x="209" y="322" width="1" height="33" fill="#ef5350"/>
<rect x="208" y="340" width="3" height="9" fill="#ef5350"/>
<rect x="214" y="305" width="1" height="51" fill="#26a69a"/>
<rect x="213" y="325" width="3" height="24" fill="#26a69a"/>
<rect x="218" y="318" width="1" height="24" fill="#ef5350"/>
<rect x="217" y="325" width="3" height="4" fill="#ef5350"/>
<rect x="223" y="322" width="1" height="31" fill="#ef5350"/>
<rect x="222" y="328" width="3" height="10" fill="#ef5350"/>
<rect x="227" y="323" width="1" height="30" fill="#26a69a"/>
<rect x="226" y="331" width="3" height="7" fill="#26a69a"/>
<rect x="232" y="326" width="1" height="40" fill="#ef5350"/>
<rect x="231" y="331" width="3" height="29" fill="#ef5350"/>
<rect x="236" y="337" width="1" height="29" fill="#26a69a"/>
<rect x="235" y="340" width="3" height="20" fill="#26a69a"/>
<rect x="240" y="327" width="1" height="50" fill="#ef5350"/>
<rect x="239" y="340" width="3" height="15" fill="#ef5350"/>
<rect x="245" y="348" width="1" height="21" fill="#26a69a"/>
<rect x="244" y="349" width="3" height="5" fill="#26a69a"/>
<rect x="249" y="323" width="1" height="34" fill="#26a69a"/>
<rect x="248" y="328" width="3" height="22" fill="#26a69a"/>
<rect x="254" y="270" width="1" height="71" fill="#26a69a"/>
<rect x="253" y="304" width="3" height="25" fill="#26a69a"/>
<rect x="258" y="284" width="1" height="48" fill="#ef5350"/>
<rect x="257" y="304" width="3" height="11" fill="#ef5350"/>
<rect x="263" y="308" width="1" height="30" fill="#ef5350"/>
<rect x="262" y="314" width="3" height="17" fill="#ef5350"/>
<rect x="267" y="311" width="1" height="29" fill="#26a69a"/>
<rect x="266" y="315" width="3" height="16" fill="#26a69a"/>
<rect x="272" y="294" width="1" height="32" fill="#ef5350"/>
<rect x="271" y="314" width="3" height="3" fill="#ef5350"/>
<rect x="276" y="303" width="1" height="64" fill="#ef5350"/>
<rect x="275" y="318" width="3" height="33" fill="#ef5350"/>
<rect x="281" y="311" width="1" height="50" fill="#26a69a"/>
<rect x="280" y="316" width="3" height="35" fill="#26a69a"/>
<rect x="285" y="308" width="1" height="43" fill="#ef5350"/>
<rect x="284" y="316" width="3" height="19" fill="#ef5350"/>
<rect x="290" y="333" width="1" height="23" fill="#ef5350"/>
<rect x="289" y="335" width="3" height="10" fill="#ef5350"/>
<rect x="294" y="327" width="1" height="28" fill="#ef5350"/>
<rect x="293" y="344" width="3" height="5" fill="#ef5350"/>
<rect x="298" y="318" width="1" height="60" fill="#26a69a"/>
<rect x="297" y="326" width="3" height="23" fill="#26a69a"/>
<rect x="303" y="313" width="1" height="31" fill="#ef5350"/>
<rect x="302" y="325" width="3" height="9" fill="#ef5350"/>
<rect x="307" y="294" width="1" height="44" fill="#26a69a"/>
<rect x="306" y="306" width="3" height="28" fill="#26a69a"/>
<rect x="312" y="274" width="1" height="48" fill="#26a69a"/>
<rect x="311" y="296" width="3" height="10" fill="#26a69a"/>
<rect x="316" y="287" width="1" height="47" fill="#ef5350"/>
<rect x="315" y="295" width="3" height="25" fill="#ef5350"/>
<rect x="321" y="313" width="1" height="18" fill="#ef5350"/>
<rect x="320" y="319" width="3" height="5" fill="#ef5350"/>
<rect x="325" y="313" width="1" height="17" fill="#ef5350"/>
<rect x="324" y="323" width="3" height="7" fill="#ef5350"/>
<rect x="330" y="323" width="1" height="18" fill="#ef5350"/>
<rect x="329" y="329" width="3" height="9" fill="#ef5350"/>
<rect x="334" y="321" width="1" height="18" fill="#26a69a"/>
<rect x="333" y="329" width="3" height="9" fill="#26a69a"/>
<rect x="339" y="327" width="1" height="10" fill="#ef5350"/>
<rect x="338" y="329" width="3" height="2" fill="#ef5350"/>
<rect x="343" y="330" width="1" height="36" fill="#ef5350"/>
<rect x="342" y="330" width="3" height="28" fill="#ef5350"/>
<rect x="347" y="348" width="1" height="35" fill="#26a69a"/>
<rect x="346" y="350" width="3" height="8" fill="#26a69a"/>
<rect x="352" y="346" width="1" height="19" fill="#ef5350"/>
<rect x="351" y="349" width="3" height="11" fill="#ef5350"/>
<rect x="356" y="353" width="1" height="10" fill="#ef5350"/>
<rect x="355" y="359" width="3" height="3" fill="#ef5350"/>
<rect x="361" y="360" width="1" height="19" fill="#ef5350"/>
<rect x="360" y="362" width="3" height="14" fill="#ef5350"/>
<rect x="365" y="369" width="1" height="23" fill="#ef5350"/>
<rect x="364" y="375" width="3" height="1" fill="#ef5350"/>
<rect x="370" y="358" width="1" height="23" fill="#26a69a"/>
<rect x="369" y="369" width="3" height="7" fill="#26a69a"/>
<rect x="374" y="366" width="1" height="17" fill="#ef5350"/>
<rect x="373" y="369" width="3" height="6" fill="#ef5350"/>
<rect x="379" y="351" width="1" height="26" fill="#26a69a"/>
<rect x="378" y="354" width="3" height="21" fill="#26a69a"/>
<rect x="383" y="345" width="1" height="14" fill="#26a69a"/>
<rect x="382" y="347" width="3" height="8" fill="#26a69a"/>
<rect x="388" y="337" width="1" height="22" fill="#ef5350"/>
<rect x="387" y="347" width="3" height="9" fill="#ef5350"/>
<rect x="392" y="340" width="1" height="25" fill="#26a69a"/>
<rect x="391" y="345" width="3" height="11" fill="#26a69a"/>
<rect x="396" y="342" width="1" height="17" fill="#ef5350"/>
<rect x="395" y="345" width="3" height="13" fill="#ef5350"/>
<rect x="401" y="356" width="1" height="17" fill="#ef5350"/>
<rect x="400" y="358" width="3" height="15" fill="#ef5350"/>
<rect x="405" y="363" width="1" height="15" fill="#26a69a"/>
<rect x="404" y="365" width="3" height="8" fill="#26a69a"/>
<rect x="410" y="359" width="1" height="10" fill="#26a69a"/>
<rect x="409" y="361" width="3" height="4" fill="#26a69a"/>
<rect x="414" y="360" width="1" height="7" fill="#ef5350"/>
<rect x="413" y="361" width="3" height="2" fill="#ef5350"/>
<rect x="419" y="361" width="1" height="8" fill="#ef5350"/>
<rect x="418" y="363" width="3" height="4" fill="#ef5350"/>
<rect x="423" y="364" width="1" height="8" fill="#ef5350"/>
<rect x="422" y="367" width="3" height="4" fill="#ef5350"/>
<rect x="428" y="351" width="1" height="22" fill="#26a69a"/>
<rect x="427" y="355" width="3" height="16" fill="#26a69a"/>
<rect x="432" y="300" width="1" height="59" fill="#26a69a"/>
<rect x="431" y="315" width="3" height="40" fill="#26a69a"/>
<rect x="437" y="274" width="1" height="42" fill="#26a69a"/>
<rect x="436" y="288" width="3" height="27" fill="#26a69a"/>
<rect x="441" y="244" width="1" height="46" fill="#26a69a"/>
<rect x="440" y="249" width="3" height="40" fill="#26a69a"/>
<rect x="445" y="231" width="1" height="37" fill="#26a69a"/>
<rect x="444" y="243" width="3" height="7" fill="#26a69a"/>
<rect x="450" y="213" width="1" height="45" fill="#26a69a"/>
<rect x="449" y="234" width="3" height="10" fill="#26a69a"/>
<rect x="454" y="218" width="1" height="39" fill="#26a69a"/>
<rect x="453" y="228" width="3" height="6" fill="#26a69a"/>
<rect x="459" y="223" width="1" height="33" fill="#ef5350"/>
<rect x="458" y="227" width="3" height="23" fill="#ef5350"/>
<rect x="463" y="233" width="1" height="21" fill="#26a69a"/>
<rect x="462" y="235" width="3" height="14" fill="#26a69a"/>
<rect x="468" y="226" width="1" height="23" fill="#ef5350"/>
<rect x="467" y="235" width="3" height="7" fill="#ef5350"/>
<rect x="472" y="215" width="1" height="30" fill="#26a69a"/>
<rect x="471" y="215" width="3" height="28" fill="#26a69a"/>
<rect x="477" y="147" width="1" height="69" fill="#26a69a"/>
<rect x="476" y="163" width="3" height="53" fill="#26a69a"/>
<rect x="481" y="157" width="1" height="23" fill="#ef5350"/>
<rect x="480" y="163" width="3" height="4" fill="#ef5350"/>
<rect x="486" y="99" width="1" height="69" fill="#26a69a"/>
<rect x="485" y="100" width="3" height="66" fill="#26a69a"/>
<rect x="490" y="80" width="1" height="72" fill="#ef5350"/>
<rect x="489" y="100" width="3" height="13" fill="#ef5350"/>
<rect x="494" y="110" width="1" height="67" fill="#ef5350"/>
<rect x="493" y="113" width="3" height="23" fill="#ef5350"/>
<rect x="499" y="129" width="1" height="29" fill="#ef5350"/>
<rect x="498" y="135" width="3" height="14" fill="#ef5350"/>
<rect x="503" y="141" width="1" height="34" fill="#ef5350"/>
<rect x="502" y="148" width="3" height="25" fill="#ef5350"/>
<rect x="508" y="139" width="1" height="40" fill="#26a69a"/>
<rect x="507" y="145" width="3" height="27" fill="#26a69a"/>
<rect x="512" y="128" width="1" height="21" fill="#26a69a"/>
<rect x="511" y="142" width="3" height="4" fill="#26a69a"/>
<rect x="517" y="136" width="1" height="40" fill="#26a69a"/>
<rect x="516" y="141" width="3" height="1" fill="#26a69a"/>
<rect x="521" y="129" width="1" height="28" fill="#ef5350"/>
<rect x="520" y="141" width="3" height="7" fill="#ef5350"/>
<rect x="526" y="94" width="1" height="98" fill="#26a69a"/>
<rect x="525" y="129" width="3" height="19" fill="#26a69a"/>
<rect x="530" y="101" width="1" height="45" fill="#ef5350"/>
<rect x="529" y="128" width="3" height="12" fill="#ef5350"/>
<rect x="535" y="124" width="1" height="19" fill="#26a69a"/>
<rect x="534" y="134" width="3" height="6" fill="#26a69a"/>
<rect x="539" y="131" width="1" height="26" fill="#ef5350"/>
<rect x="538" y="134" width="3" height="9" fill="#ef5350"/>
<rect x="543" y="142" width="1" height="24" fill="#ef5350"/>
<rect x="542" y="143" width="3" height="12" fill="#ef5350"/>
<rect x="548" y="139" width="1" height="53" fill="#ef5350"/>
<rect x="547" y="154" width="3" height="17" fill="#ef5350"/>
<rect x="552" y="150" width="1" height="80" fill="#ef5350"/>
<rect x="551" y="170" width="3" height="30" fill="#ef5350"/>
<rect x="557" y="186" width="1" height="38" fill="#ef5350"/>
<rect x="556" y="200" width="3" height="10" fill="#ef5350"/>
<rect x="561" y="162" width="1" height="59" fill="#26a69a"/>
<rect x="560" y="176" width="3" height="35" fill="#26a69a"/>
<rect x="566" y="166" width="1" height="55" fill="#ef5350"/>
<rect x="565" y="176" width="3" height="34" fill="#ef5350"/>
<rect x="570" y="202" width="1" height="32" fill="#ef5350"/>
<rect x="569" y="209" width="3" height="4" fill="#ef5350"/>
<rect x="575" y="198" width="1" height="32" fill="#ef5350"/>
<rect x="574" y="213" width="3" height="3" fill="#ef5350"/>
<rect x="579" y="179" width="1" height="53" fill="#26a69a"/>
<rect x="578" y="194" width="3" height="21" fill="#26a69a"/>
<rect x="584" y="179" width="1" height="52" fill="#ef5350"/>
<rect x="583" y="194" width="3" height="16" fill="#ef5350"/>
<rect x="588" y="204" width="1" height="28" fill="#ef5350"/>
<rect x="587" y="209" width="3" height="7" fill="#ef5350"/>
<rect x="592" y="210" width="1" height="33" fill="#ef5350"/>
<rect x="591" y="215" width="3" height="6" fill="#ef5350"/>
<rect x="597" y="215" width="1" height="64" fill="#ef5350"/>
<rect x="596" y="221" width="3" height="20" fill="#ef5350"/>
<rect x="601" y="225" width="1" height="61" fill="#ef5350"/>
<rect x="600" y="240" width="3" height="36" fill="#ef5350"/>
<rect x="606" y="230" width="1" height="58" fill="#26a69a"/>
<rect x="605" y="243" width="3" height="32" fill="#26a69a"/>
<rect x="610" y="243" width="1" height="36" fill="#ef5350"/>
<rect x="609" y="243" width="3" height="25" fill="#ef5350"/>
<rect x="615" y="257" width="1" height="61" fill="#ef5350"/>
<rect x="614" y="267" width="3" height="42" fill="#ef5350"/>
<rect x="619" y="257" width="1" height="59" fill="#26a69a"/>
<rect x="618" y="262" width="3" height="47" fill="#26a69a"/>
<rect x="624" y="192" width="1" height="73" fill="#26a69a"/>
<rect x="623" y="216" width="3" height="47" fill="#26a69a"/>
<rect x="628" y="183" width="1" height="50" fill="#ef5350"/>
<rect x="627" y="216" width="3" height="4" fill="#ef5350"/>
<rect x="633" y="219" width="1" height="36" fill="#ef5350"/>
<rect x="632" y="219" width="3" height="28" fill="#ef5350"/>
<rect x="637" y="212" width="1" height="34" fill="#26a69a"/>
<rect x="636" y="215" width="3" height="31" fill="#26a69a"/>
<rect x="641" y="201" width="1" height="24" fill="#ef5350"/>
<rect x="640" y="215" width="3" height="8" fill="#ef5350"/>
<rect x="646" y="208" width="1" height="46" fill="#ef5350"/>
<rect x="645" y="222" width="3" height="28" fill="#ef5350"/>
<rect x="650" y="240" width="1" height="32" fill="#ef5350"/>
<rect x="649" y="250" width="3" height="15" fill="#ef5350"/>
<rect x="655" y="239" width="1" height="27" fill="#26a69a"/>
<rect x="654" y="240" width="3" height="25" fill="#26a69a"/>
<rect x="659" y="237" width="1" height="23" fill="#ef5350"/>
<rect x="658" y="241" width="3" height="8" fill="#ef5350"/>
<rect x="664" y="244" width="1" height="24" fill="#ef5350"/>
<rect x="663" y="249" width="3" height="16" fill="#ef5350"/>
<rect x="668" y="240" width="1" height="26" fill="#26a69a"/>
<rect x="667" y="241" width="3" height="24" fill="#26a69a"/>
<rect x="673" y="232" width="1" height="37" fill="#ef5350"/>
<rect x="672" y="241" width="3" height="21" fill="#ef5350"/>
<rect x="677" y="260" width="1" height="45" fill="#ef5350"/>
<rect x="676" y="261" width="3" height="18" fill="#ef5350"/>
<rect x="682" y="263" width="1" height="29" fill="#ef5350"/>
<rect x="681" y="278" width="3" height="5" fill="#ef5350"/>
<rect x="686" y="262" width="1" height="27" fill="#26a69a"/>
<rect x="685" y="272" width="3" height="11" fill="#26a69a"/>
<rect x="690" y="257" width="1" height="29" fill="#ef5350"/>
<rect x="689" y="272" width="3" height="1" fill="#ef5350"/>
<rect x="695" y="218" width="1" height="58" fill="#26a69a"/>
<rect x="694" y="239" width="3" height="34" fill="#26a69a"/>
<rect x="699" y="220" width="1" height="30" fill="#ef5350"/>
<rect x="698" y="239" width="3" height="1" fill="#ef5350"/>
<rect x="704" y="215" width="1" height="35" fill="#26a69a"/>
<rect x="703" y="228" width="3" height="12" fill="#26a69a"/>
<rect x="708" y="215" width="1" height="42" fill="#ef5350"/>
<rect x="707" y="228" width="3" height="25" fill="#ef5350"/>
<rect x="713" y="226" width="1" height="42" fill="#26a69a"/>
<rect x="712" y="232" width="3" height="21" fill="#26a69a"/>
<rect x="717" y="221" width="1" height="25" fill="#26a69a"/>
<rect x="716" y="223" width="3" height="10" fill="#26a69a"/>
<rect x="722" y="212" width="1" height="93" fill="#ef5350"/>
<rect x="721" y="223" width="3" height="54" fill="#ef5350"/>
<rect x="726" y="270" width="1" height="85" fill="#ef5350"/>
<rect x="725" y="277" width="3" height="36" fill="#ef5350"/>
<rect x="731" y="281" width="1" height="56" fill="#26a69a"/>
<rect x="730" y="294" width="3" height="18" fill="#26a69a"/>
<rect x="735" y="257" width="1" height="66" fill="#ef5350"/>
<rect x="734" y="294" width="3" height="10" fill="#ef5350"/>
<rect x="739" y="298" width="1" height="41" fill="#ef5350"/>
<rect x="738" y="303" width="3" height="10" fill="#ef5350"/>
<rect x="744" y="297" width="1" height="29" fill="#26a69a"/>
<rect x="743" y="309" width="3" height="4" fill="#26a69a"/>
<rect x="748" y="301" width="1" height="30" fill="#26a69a"/>
<rect x="747" y="308" width="3" height="1" fill="#26a69a"/>
<rect x="753" y="307" width="1" height="30" fill="#ef5350"/>
<rect x="752" y="308" width="3" height="19" fill="#ef5350"/>
<rect x="757" y="300" width="1" height="31" fill="#26a69a"/>
<rect x="756" y="306" width="3" height="21" fill="#26a69a"/>
<rect x="762" y="299" width="1" height="22" fill="#ef5350"/>
<rect x="761" y="306" width="3" height="10" fill="#ef5350"/>
<rect x="766" y="269" width="1" height="50" fill="#26a69a"/>
<rect x="765" y="282" width="3" height="34" fill="#26a69a"/>
<rect x="771" y="264" width="1" height="27" fill="#26a69a"/>
<rect x="770" y="275" width="3" height="8" fill="#26a69a"/>
<rect x="775" y="271" width="1" height="30" fill="#ef5350"/>
<rect x="774" y="275" width="3" height="20" fill="#ef5350"/>
<rect x="780" y="290" width="1" height="28" fill="#ef5350"/>
<rect x="779" y="294" width="3" height="15" fill="#ef5350"/>
<rect x="784" y="301" width="1" height="14" fill="#ef5350"/>
<rect x="783" y="308" width="3" height="2" fill="#ef5350"/>
<rect x="788" y="307" width="1" height="43" fill="#ef5350"/>
<rect x="787" y="309" width="3" height="32" fill="#ef5350"/>
<rect x="793" y="291" width="1" height="52" fill="#26a69a"/>
<rect x="792" y="316" width="3" height="25" fill="#26a69a"/>
<rect x="797" y="307" width="1" height="30" fill="#ef5350"/>
<rect x="796" y="316" width="3" height="10" fill="#ef5350"/>
<rect x="802" y="320" width="1" height="33" fill="#ef5350"/>
<rect x="801" y="326" width="3" height="11" fill="#ef5350"/>
<rect x="806" y="331" width="1" height="34" fill="#ef5350"/>
<rect x="805" y="337" width="3" height="4" fill="#ef5350"/>
<rect x="811" y="339" width="1" height="13" fill="#ef5350"/>
<rect x="810" y="340" width="3" height="8" fill="#ef5350"/>
<rect x="815" y="328" width="1" height="30" fill="#26a69a"/>
<rect x="814" y="330" width="3" height="18" fill="#26a69a"/>
<rect x="820" y="321" width="1" height="19" fill="#ef5350"/>
<rect x="819" y="330" width="3" height="6" fill="#ef5350"/>
<rect x="824" y="334" width="1" height="15" fill="#ef5350"/>
<rect x="823" y="335" width="3" height="8" fill="#ef5350"/>
<rect x="829" y="327" width="1" height="20" fill="#26a69a"/>
<rect x="828" y="337" width="3" height="7" fill="#26a69a"/>
<rect x="833" y="319" width="1" height="19" fill="#26a69a"/>
<rect x="832" y="331" width="3" height="6" fill="#26a69a"/>
<rect x="837" y="290" width="1" height="47" fill="#26a69a"/>
<rect x="836" y="311" width="3" height="20" fill="#26a69a"/>
<rect x="842" y="289" width="1" height="23" fill="#26a69a"/>
<rect x="841" y="292" width="3" height="20" fill="#26a69a"/>
<rect x="846" y="263" width="1" height="40" fill="#26a69a"/>
<rect x="845" y="292" width="3" height="1" fill="#26a69a"/>
<rect x="851" y="276" width="1" height="25" fill="#ef5350"/>
<rect x="850" y="292" width="3" height="8" fill="#ef5350"/>
<rect x="855" y="289" width="1" height="17" fill="#26a69a"/>
<rect x="854" y="297" width="3" height="3" fill="#26a69a"/>
<rect x="860" y="294" width="1" height="32" fill="#ef5350"/>
<rect x="859" y="297" width="3" height="17" fill="#ef5350"/>
<rect x="864" y="312" width="1" height="18" fill="#ef5350"/>
<rect x="863" y="314" width="3" height="14" fill="#ef5350"/>
<rect x="869" y="290" width="1" height="40" fill="#26a69a"/>
<rect x="868" y="298" width="3" height="30" fill="#26a69a"/>
<rect x="873" y="291" width="1" height="21" fill="#ef5350"/>
<rect x="872" y="298" width="3" height="7" fill="#ef5350"/>
<rect x="878" y="289" width="1" height="17" fill="#26a69a"/>
<rect x="877" y="299" width="3" height="6" fill="#26a69a"/>
<rect x="882" y="291" width="1" height="10" fill="#26a69a"/>
<rect x="881" y="291" width="3" height="8" fill="#26a69a"/>
<rect x="886" y="290" width="1" height="12" fill="#ef5350"/>
<rect x="885" y="291" width="3" height="8" fill="#ef5350"/>
<rect x="891" y="273" width="1" height="29" fill="#26a69a"/>
<rect x="890" y="276" width="3" height="23" fill="#26a69a"/>
<rect x="895" y="255" width="1" height="38" fill="#26a69a"/>
<rect x="894" y="262" width="3" height="14" fill="#26a69a"/>
<rect x="900" y="234" width="1" height="43" fill="#26a69a"/>
<rect x="899" y="250" width="3" height="12" fill="#26a69a"/>
<rect x="904" y="232" width="1" height="40" fill="#ef5350"/>
<rect x="903" y="250" width="3" height="10" fill="#ef5350"/>
<rect x="909" y="256" width="1" height="19" fill="#ef5350"/>
<rect x="908" y="259" width="3" height="7" fill="#ef5350"/>
<rect x="913" y="238" width="1" height="33" fill="#26a69a"/>
<rect x="912" y="238" width="3" height="28" fill="#26a69a"/>
<rect x="918" y="234" width="1" height="18" fill="#ef5350"/>
<rect x="917" y="238" width="3" height="7" fill="#ef5350"/>
<rect x="922" y="228" width="1" height="22" fill="#26a69a"/>
<rect x="921" y="230" width="3" height="15" fill="#26a69a"/>
<rect x="927" y="227" width="1" height="19" fill="#ef5350"/>
<rect x="926" y="230" width="3" height="13" fill="#ef5350"/>
<rect x="931" y="238" width="1" height="14" fill="#ef5350"/>
<rect x="930" y="242" width="3" height="8" fill="#ef5350"/>
<rect x="935" y="237" width="1" height="25" fill="#26a69a"/>
<rect x="934" y="244" width="3" height="6" fill="#26a69a"/>
<rect x="940" y="242" width="1" height="15" fill="#ef5350"/>
<rect x="939" y="244" width="3" height="6" fill="#ef5350"/>
<rect x="944" y="244" width="1" height="6" fill="#26a69a"/>
<rect x="943" y="249" width="3" height="1" fill="#26a69a"/>
<rect x="949" y="215" width="1" height="35" fill="#26a69a"/>
<rect x="948" y="217" width="3" height="33" fill="#26a69a"/>
<rect x="953" y="123" width="1" height="104" fill="#26a69a"/>
<rect x="952" y="146" width="3" height="71" fill="#26a69a"/>
<rect x="958" y="109" width="1" height="48" fill="#26a69a"/>
<rect x="957" y="110" width="3" height="37" fill="#26a69a"/>
<rect x="962" y="71" width="1" height="57" fill="#ef5350"/>
<rect x="961" y="110" width="3" height="9" fill="#ef5350"/>
<rect x="967" y="100" width="1" height="40" fill="#ef5350"/>
<rect x="966" y="118" width="3" height="20" fill="#ef5350"/>
<rect x="971" y="118" width="1" height="90" fill="#ef5350"/>
<rect x="970" y="137" width="3" height="30" fill="#ef5350"/>
<rect x="976" y="144" width="1" height="48" fill="#ef5350"/>
<rect x="975" y="166" width="3" height="23" fill="#ef5350"/>
<rect x="980" y="145" width="1" height="47" fill="#26a69a"/>
<rect x="979" y="147" width="3" height="43" fill="#26a69a"/>
<rect x="984" y="144" width="1" height="31" fill="#ef5350"/>
<rect x="983" y="147" width="3" height="24" fill="#ef5350"/>
<rect x="989" y="157" width="1" height="27" fill="#26a69a"/>
<rect x="988" y="164" width="3" height="6" fill="#26a69a"/>
<rect x="993" y="111" width="1" height="63" fill="#26a69a"/>
<rect x="992" y="143" width="3" height="22" fill="#26a69a"/>
<rect x="998" y="131" width="1" height="38" fill="#ef5350"/>
<rect x="997" y="144" width="3" height="14" fill="#ef5350"/>
<rect x="1002" y="145" width="1" height="41" fill="#ef5350"/>
<rect x="1001" y="157" width="3" height="10" fill="#ef5350"/>
<rect x="1007" y="154" width="1" height="54" fill="#ef5350"/>
<rect x="1006" y="166" width="3" height="34" fill="#ef5350"/>
<rect x="1011" y="173" width="1" height="35" fill="#26a69a"/>
<rect x="1010" y="176" width="3" height="24" fill="#26a69a"/>
<rect x="1016" y="170" width="1" height="38" fill="#ef5350"/>
<rect x="1015" y="176" width="3" height="25" fill="#ef5350"/>
<rect x="1020" y="199" width="1" height="53" fill="#ef5350"/>
<rect x="1019" y="200" width="3" height="30" fill="#ef5350"/>
<rect x="1025" y="212" width="1" height="25" fill="#26a69a"/>
<rect x="1024" y="227" width="3" height="3" fill="#26a69a"/>
<rect x="1029" y="205" width="1" height="32" fill="#26a69a"/>
<rect x="1028" y="219" width="3" height="9" fill="#26a69a"/>
<rect x="1033" y="217" width="1" height="17" fill="#ef5350"/>
<rect x="1032" y="220" width="3" height="4" fill="#ef5350"/>
<rect x="1038" y="195" width="1" height="32" fill="#26a69a"/>
<rect x="1037" y="198" width="3" height="27" fill="#26a69a"/>
<rect x="1042" y="179" width="1" height="26" fill="#ef5350"/>
<rect x="1041" y="198" width="3" height="5" fill="#ef5350"/>
<rect x="1047" y="189" width="1" height="40" fill="#26a69a"/>
<rect x="1046" y="193" width="3" height="10" fill="#26a69a"/>
<rect x="1051" y="169" width="1" height="31" fill="#26a69a"/>
<rect x="1050" y="169" width="3" height="24" fill="#26a69a"/>
<rect x="1056" y="118" width="1" height="63" fill="#26a69a"/>
<rect x="1055" y="124" width="3" height="46" fill="#26a69a"/>
<rect x="1060" y="102" width="1" height="42" fill="#26a69a"/>
<rect x="1059" y="105" width="3" height="20" fill="#26a69a"/>
<rect x="1065" y="97" width="1" height="25" fill="#ef5350"/>
<rect x="1064" y="105" width="3" height="11" fill="#ef5350"/>
<rect x="1069" y="71" width="1" height="51" fill="#26a69a"/>
<rect x="1068" y="74" width="3" height="42" fill="#26a69a"/>
<rect x="1074" y="53" width="1" height="71" fill="#ef5350"/>
<rect x="1073" y="74" width="3" height="7" fill="#ef5350"/>
<rect x="1078" y="66" width="1" height="54" fill="#ef5350"/>
<rect x="1077" y="80" width="3" height="34" fill="#ef5350"/>
<rect x="1082" y="89" width="1" height="36" fill="#ef5350"/>
<rect x="1081" y="114" width="3" height="7" fill="#ef5350"/>
<rect x="1087" y="115" width="1" height="34" fill="#ef5350"/>
<rect x="1086" y="119" width="3" height="14" fill="#ef5350"/>
<rect x="1091" y="128" width="1" height="52" fill="#ef5350"/>
<rect x="1090" y="132" width="3" height="23" fill="#ef5350"/>
<rect x="1096" y="154" width="1" height="66" fill="#ef5350"/>
<rect x="1095" y="154" width="3" height="16" fill="#ef5350"/>
<rect x="1100" y="127" width="1" height="51" fill="#26a69a"/>
<rect x="1099" y="148" width="3" height="22" fill="#26a69a"/>
<rect x="1105" y="140" width="1" height="41" fill="#ef5350"/>
<rect x="1104" y="148" width="3" height="33" fill="#ef5350"/>
<rect x="1109" y="150" width="1" height="45" fill="#26a69a"/>
<rect x="1108" y="154" width="3" height="27" fill="#26a69a"/>
<rect x="1114" y="133" width="1" height="30" fill="#26a69a"/>
<rect x="1113" y="143" width="3" height="12" fill="#26a69a"/>
<rect x="1118" y="132" width="1" height="21" fill="#ef5350"/>
<rect x="1117" y="143" width="3" height="2" fill="#ef5350"/>
<rect x="1123" y="138" width="1" height="19" fill="#ef5350"/>
<rect x="1122" y="144" width="3" height="13" fill="#ef5350"/>
<rect x="1127" y="148" width="1" height="22" fill="#26a69a"/>
<rect x="1126" y="149" width="3" height="8" fill="#26a69a"/>
<rect x="1131" y="147" width="1" height="10" fill="#ef5350"/>
<rect x="1130" y="149" width="3" height="4" fill="#ef5350"/>
<rect x="1136" y="135" width="1" height="19" fill="#26a69a"/>
<rect x="1135" y="141" width="3" height="12" fill="#26a69a"/>
<rect x="1140" y="104" width="1" height="38" fill="#26a69a"/>
<rect x="1139" y="104" width="3" height="38" fill="#26a69a"/>
<rect x="1145" y="102" width="1" height="30" fill="#ef5350"/>
<rect x="1144" y="104" width="3" height="9" fill="#ef5350"/>
<rect x="1149" y="107" width="1" height="24" fill="#ef5350"/>
<rect x="1148" y="112" width="3" height="12" fill="#ef5350"/>
<rect x="1154" y="112" width="1" height="15" fill="#26a69a"/>
<rect x="1153" y="117" width="3" height="7" fill="#26a69a"/>
<rect x="1158" y="103" width="1" height="21" fill="#26a69a"/>
<rect x="1157" y="109" width="3" height="9" fill="#26a69a"/>
<rect x="1163" y="104" width="1" height="14" fill="#26a69a"/>
<rect x="1162" y="109" width="3" height="1" fill="#26a69a"/>
<rect x="1167" y="101" width="1" height="28" fill="#ef5350"/>
<rect x="1166" y="108" width="3" height="6" fill="#ef5350"/>
<rect x="1172" y="112" width="1" height="25" fill="#ef5350"/>
<rect x="1171" y="113" width="3" height="16" fill="#ef5350"/>
<rect x="1176" y="113" width="1" height="28" fill="#26a69a"/>
<rect x="1175" y="115" width="3" height="14" fill="#26a69a"/>
<rect x="1180" y="111" width="1" height="15" fill="#ef5350"/>
<rect x="1179" y="115" width="3" height="5" fill="#ef5350"/>
<rect x="1185" y="117" width="1" height="16" fill="#ef5350"/>
<rect x="1184" y="119" width="3" height="5" fill="#ef5350"/>
<rect x="1189" y="107" width="1" height="19" fill="#26a69a"/>
<rect x="1188" y="107" width="3" height="17" fill="#26a69a"/>
<rect x="1194" y="62" width="1" height="48" fill="#26a69a"/>
<rect x="1193" y="82" width="3" height="26" fill="#26a69a"/>
<rect x="1198" y="82" width="1" height="18" fill="#ef5350"/>
<rect x="1197" y="83" width="3" height="6" fill="#ef5350"/>
</g>
<g transform="translate(1198.5,550.5)"><circle r="10" fill="none" stroke="#9c27b0" stroke-width="1.3"/><circle cx="7" cy="-7" r="4" fill="#fff"/><circle cx="7" cy="-7" r="2.6" fill="#f23645"/><path d="M2.4,-6 L-4.1,1.1 L0.2,1.1 L-2.4,6 L4.1,-1.1 L-0.2,-1.1 Z" fill="#9c27b0"/></g>
<rect x="1309.5" y="28" width="66.4" height="740.9" fill="#fff"/>
<g stroke="#e0e3eb" stroke-width="1" shape-rendering="crispEdges">
<line x1="10.5" x2="1375.9" y1="563.5" y2="563.5"/>
<line x1="10.5" x2="1375.9" y1="742.5" y2="742.5"/>
<line x1="1309.5" x2="1309.5" y1="28" y2="768.9"/>
</g>
<rect x="10.0" y="27.2" width="1366.9" height="742.7" fill="none" stroke="#eaecf1" stroke-width="2"/>
<rect x="10" y="500" width="1" height="27" fill="#26a69a"/>
<text x="10.4" y="19.2" font-size="13" fill="#131722" textLength="356.7" lengthAdjust="spacingAndGlyphs">ranadagger published on TradingView.com, Jul 28, 2024 15:48 UTC</text>
<text x="1318.2" y="534.5" font-size="12" fill="#131722" textLength="48.0" lengthAdjust="spacingAndGlyphs">0.050000</text>
<text x="1318.2" y="502.3" font-size="12" fill="#131722" textLength="48.0" lengthAdjust="spacingAndGlyphs">0.060000</text>
<text x="1318.2" y="470.1" font-size="12" fill="#131722" textLength="48.0" lengthAdjust="spacingAndGlyphs">0.070000</text>
<text x="1318.2" y="437.9" font-size="12" fill="#131722" textLength="48.0" lengthAdjust="spacingAndGlyphs">0.080000</text>
<text x="1318.2" y="405.8" font-size="12" fill="#131722" textLength="48.0" lengthAdjust="spacingAndGlyphs">0.090000</text>
<text x="1318.2" y="373.6" font-size="12" fill="#131722" textLength="48.0" lengthAdjust="spacingAndGlyphs">0.100000</text>
<text x="1318.2" y="341.4" font-size="12" fill="#131722" textLength="48.0" lengthAdjust="spacingAndGlyphs">0.110000</text>
<text x="1318.2" y="309.2" font-size="12" fill="#131722" textLength="48.0" lengthAdjust="spacingAndGlyphs">0.120000</text>
<text x="1318.2" y="277.0" font-size="12" fill="#131722" textLength="48.0" lengthAdjust="spacingAndGlyphs">0.130000</text>
<text x="1318.2" y="244.9" font-size="12" fill="#131722" textLength="48.0" lengthAdjust="spacingAndGlyphs">0.140000</text>
<text x="1318.2" y="212.7" font-size="12" fill="#131722" textLength="48.0" lengthAdjust="spacingAndGlyphs">0.150000</text>
<text x="1318.2" y="180.5" font-size="12" fill="#131722" textLength="48.0" lengthAdjust="spacingAndGlyphs">0.160000</text>
<text x="1318.2" y="84.0" font-size="12" fill="#131722" textLength="48.0" lengthAdjust="spacingAndGlyphs">0.190000</text>
<text x="1318.0" y="710.0" font-size="12" fill="#131722" textLength="29.5" lengthAdjust="spacingAndGlyphs">40.00</text>
<text x="1318.0" y="605.0" font-size="12" fill="#131722" textLength="29.5" lengthAdjust="spacingAndGlyphs">80.00</text>
<text x="119.5" y="759.6" font-size="12" fill="#131722" textLength="19.6" lengthAdjust="spacingAndGlyphs">Dec</text>
<text x="253.7" y="759.6" font-size="12" fill="#131722" font-weight="bold" textLength="27.3" lengthAdjust="spacingAndGlyphs">2024</text>
<text x="395.8" y="759.6" font-size="12" fill="#131722" textLength="19.0" lengthAdjust="spacingAndGlyphs">Feb</text>
<text x="525.5" y="759.6" font-size="12" fill="#131722" textLength="19.6" lengthAdjust="spacingAndGlyphs">Mar</text>
<text x="664.1" y="759.6" font-size="12" fill="#131722" textLength="18.3" lengthAdjust="spacingAndGlyphs">Apr</text>
<text x="795.8" y="759.6" font-size="12" fill="#131722" textLength="21.0" lengthAdjust="spacingAndGlyphs">May</text>
<text x="934.8" y="759.6" font-size="12" fill="#131722" textLength="19.0" lengthAdjust="spacingAndGlyphs">Jun</text>
<text x="1070.7" y="759.6" font-size="12" fill="#131722" textLength="15.2" lengthAdjust="spacingAndGlyphs">Jul</text>
<text x="1206.5" y="759.6" font-size="12" fill="#131722" textLength="19.7" lengthAdjust="spacingAndGlyphs">Aug</text>
<text x="1290.7" y="759.6" font-size="12" fill="#131722" textLength="11.2" lengthAdjust="spacingAndGlyphs">19</text>
<text x="18.5" y="45.7" font-size="12" fill="#131722" textLength="127.8" lengthAdjust="spacingAndGlyphs">Kaspa / USDT, 1D, MEXC</text>
<text x="154.3" y="45.7" font-size="12" fill="#131722" textLength="7.5" lengthAdjust="spacingAndGlyphs">O</text>
<text x="162.8" y="45.7" font-size="12" fill="#ef5350" textLength="47.4" lengthAdjust="spacingAndGlyphs">0.189052</text>
<text x="218.5" y="45.7" font-size="12" fill="#131722" textLength="6.5" lengthAdjust="spacingAndGlyphs">H</text>
<text x="226.0" y="45.7" font-size="12" fill="#ef5350" textLength="47.4" lengthAdjust="spacingAndGlyphs">0.189264</text>
<text x="282.1" y="45.7" font-size="12" fill="#131722" textLength="5.1" lengthAdjust="spacingAndGlyphs">L</text>
<text x="288.2" y="45.7" font-size="12" fill="#ef5350" textLength="47.4" lengthAdjust="spacingAndGlyphs">0.183729</text>
<text x="343.7" y="45.7" font-size="12" fill="#131722" textLength="6.0" lengthAdjust="spacingAndGlyphs">C</text>
<text x="350.7" y="45.7" font-size="12" fill="#ef5350" textLength="47.5" lengthAdjust="spacingAndGlyphs">0.187513</text>
<text x="407.3" y="45.7" font-size="12" fill="#ef5350" textLength="102.5" lengthAdjust="spacingAndGlyphs">−0.001614 (−0.85%)</text>
<text x="18.5" y="62.7" font-size="12" fill="#131722" textLength="80.9" lengthAdjust="spacingAndGlyphs">EMA (20, close)</text>
<text x="107.9" y="62.7" font-size="12" fill="#2962ff" textLength="47.8" lengthAdjust="spacingAndGlyphs">0.177897</text>
<text x="18.5" y="79.5" font-size="12" fill="#131722" textLength="80.9" lengthAdjust="spacingAndGlyphs">SMA (50, close)</text>
<text x="107.5" y="79.5" font-size="12" fill="#f23645" textLength="47.4" lengthAdjust="spacingAndGlyphs">0.169468</text>
<text x="17.9" y="583.0" font-size="12" fill="#131722" textLength="75.9" lengthAdjust="spacingAndGlyphs">RSI (14, close)</text>
<text x="101.8" y="583.0" font-size="12" fill="#7e57c2" textLength="29.0" lengthAdjust="spacingAndGlyphs">61.80</text>
<text x="138.5" y="583.0" font-size="12" fill="#ffeb3b" textLength="29.5" lengthAdjust="spacingAndGlyphs">57.77</text>
<text x="175.6" y="583.0" font-size="12.5" fill="#131722" textLength="7.2" lengthAdjust="spacingAndGlyphs" stroke="#131722" stroke-width="0.3">∅</text>
<text x="191.6" y="583.0" font-size="12.5" fill="#131722" textLength="7.2" lengthAdjust="spacingAndGlyphs" stroke="#131722" stroke-width="0.3">∅</text>
<text x="207.0" y="583.0" font-size="12.5" fill="#131722" textLength="7.2" lengthAdjust="spacingAndGlyphs" stroke="#131722" stroke-width="0.3">∅</text>
<text x="221.8" y="583.0" font-size="12.5" fill="#131722" textLength="7.2" lengthAdjust="spacingAndGlyphs" stroke="#131722" stroke-width="0.3">∅</text>
<rect x="1313.5" y="31.5" width="59" height="26" rx="4" fill="#fff" stroke="#e0e3eb" stroke-width="1"/>
<text x="1322.6" y="48.7" font-size="12" fill="#131722" textLength="26.9" lengthAdjust="spacingAndGlyphs">USDT</text>
<path d="M1309.1,62.1 h60.6 a2,2 0 0 1 2,2 v12.7 a2,2 0 0 1 -2,2 h-60.6 z" fill="#0000ff"/>
<text x="1317.9" y="74.6" font-size="12" fill="#fff" stroke="#fff" stroke-width="0.35" textLength="48.3" lengthAdjust="spacingAndGlyphs">0.193000</text>
<path d="M1309.1,80.0 h61.6 a2,2 0 0 1 2,2 v40.7 a2,2 0 0 1 -2,2 h-61.6 z" fill="#ef5350"/>
<text x="1317.9" y="92.6" font-size="12" fill="#fff" stroke="#fff" stroke-width="0.35" textLength="48.3" lengthAdjust="spacingAndGlyphs">0.187513</text>
<text x="1318.7" y="106.5" font-size="12" fill="#fff" stroke="#fff" stroke-width="0.35" textLength="48.0" lengthAdjust="spacingAndGlyphs">+260.60%</text>
<text x="1318.2" y="120.5" font-size="12" fill="#fff" stroke="#fff" stroke-width="0.35" textLength="46.2" lengthAdjust="spacingAndGlyphs" fill-opacity="0.75">08:11:06</text>
<path d="M1307.8,80.2 h-54.7 a2,2 0 0 0 -2,2 v12.7 a2,2 0 0 0 2,2 h54.7 z" fill="#ef5350"/>
<text x="1255.6" y="92.6" font-size="12" fill="#fff" stroke="#fff" stroke-width="0.35" textLength="46.2" lengthAdjust="spacingAndGlyphs">KASUSDT</text>
<path d="M1309.1,125.2 h60.6 a2,2 0 0 1 2,2 v12.7 a2,2 0 0 1 -2,2 h-60.6 z" fill="#2962ff"/>
<text x="1317.9" y="137.7" font-size="12" fill="#fff" stroke="#fff" stroke-width="0.35" textLength="48.3" lengthAdjust="spacingAndGlyphs">0.177897</text>
<path d="M1307.8,125.2 h-29.7 a2,2 0 0 0 -2,2 v12.7 a2,2 0 0 0 2,2 h29.7 z" fill="#2962ff"/>
<text x="1280.9" y="137.7" font-size="12" fill="#fff" stroke="#fff" stroke-width="0.35" textLength="22.5" lengthAdjust="spacingAndGlyphs">EMA</text>
<path d="M1309.1,142.2 h60.6 a2,2 0 0 1 2,2 v12.7 a2,2 0 0 1 -2,2 h-60.6 z" fill="#f23645"/>
<text x="1317.9" y="154.6" font-size="12" fill="#fff" stroke="#fff" stroke-width="0.35" textLength="48.3" lengthAdjust="spacingAndGlyphs">0.169468</text>
<path d="M1307.8,142.2 h-48.6 a2,2 0 0 0 -2,2 v12.7 a2,2 0 0 0 2,2 h48.6 z" fill="#f23645"/>
<text x="1261.9" y="154.6" font-size="12" fill="#fff" stroke="#fff" stroke-width="0.35" textLength="41.5" lengthAdjust="spacingAndGlyphs">SMA:MA</text>
<path d="M1309.1,640.2 h41.8 a2,2 0 0 1 2,2 v12.5 a2,2 0 0 1 -2,2 h-41.8 z" fill="#7e57c2"/>
<text x="1318.0" y="652.5" font-size="12" fill="#fff" stroke="#fff" stroke-width="0.35" textLength="29.5" lengthAdjust="spacingAndGlyphs">61.80</text>
<path d="M1307.8,640.2 h-23.5 a2,2 0 0 0 -2,2 v12.5 a2,2 0 0 0 2,2 h23.5 z" fill="#7e57c2"/>
<text x="1287.0" y="652.5" font-size="12" fill="#fff" stroke="#fff" stroke-width="0.35" textLength="16.0" lengthAdjust="spacingAndGlyphs">RSI</text>
<path d="M1309.1,657.2 h41.8 a2,2 0 0 1 2,2 v12.6 a2,2 0 0 1 -2,2 h-41.8 z" fill="#ffeb3b"/>
<text x="1318.5" y="669.4" font-size="12" fill="#131722" textLength="28.3" lengthAdjust="spacingAndGlyphs">57.77</text>
<path d="M1307.8,657.2 h-77.8 a2,2 0 0 0 -2,2 v12.6 a2,2 0 0 0 2,2 h77.8 z" fill="#ffeb3b"/>
<text x="1232.6" y="669.4" font-size="12" fill="#131722" textLength="70.4" lengthAdjust="spacingAndGlyphs">RSI-based MA</text>
<g fill="#131722"><path d="M10,782.1 h7.8 v9.5 h-3.9 v-5.8 h-3.9 z"/><circle cx="21" cy="784.1" r="2"/><path d="M25,782.1 h4.8 l-4.4,9.5 h-4.1 z"/></g>
<text x="32.5" y="791.5" font-size="13" fill="#131722" textLength="70.7" lengthAdjust="spacingAndGlyphs">TradingView</text>
</svg></body></html>
